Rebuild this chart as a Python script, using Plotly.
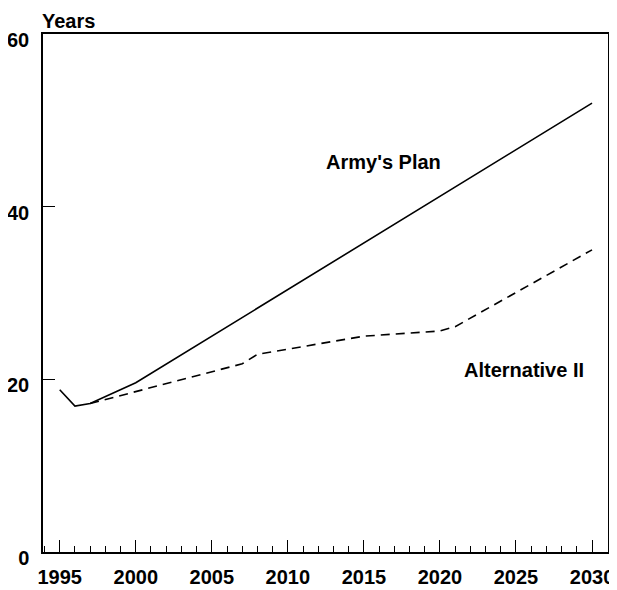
import plotly.graph_objects as go

# Army's Plan (solid)
army_years = [1995, 1996, 1997, 2000, 2030]
army_values = [18.8, 16.9, 17.2, 19.6, 52.0]

# Alternative II (dashed)
alt_years = [1997, 2000, 2005, 2007, 2008, 2010, 2015, 2020, 2021, 2030]
alt_values = [17.2, 18.6, 20.9, 21.8, 22.9, 23.5, 25.0, 25.6, 26.1, 35.0]

x_ticks = [1995, 2000, 2005, 2010, 2015, 2020, 2025, 2030]
y_ticks = [0, 20, 40, 60]

bold = dict(family="Liberation Sans, Arial, sans-serif", size=20, color="black", weight="bold")

fig = go.Figure()
fig.add_trace(go.Scatter(x=army_years, y=army_values, mode="lines",
                         line=dict(color="black", width=1.6), showlegend=False))
fig.add_trace(go.Scatter(x=alt_years, y=alt_values, mode="lines",
                         line=dict(color="black", width=1.6, dash="9px,6px"), showlegend=False))

fig.add_annotation(x=2016.3, y=45.2, text="Army's Plan", showarrow=False, font=bold)
fig.add_annotation(x=2025.55, y=21.1, text="Alternative II", showarrow=False, font=bold)
fig.add_annotation(x=0, y=1, xref="paper", yref="paper", xanchor="left", yanchor="bottom",
                   text="Years", showarrow=False, font=bold, yshift=0, xshift=-3)

# page body has an 8px margin, so the figure is sized/offset to land on the reference
fig.update_layout(
    width=609, height=582,
    margin=dict(l=35, r=9, t=26, b=38, autoexpand=False),
    plot_bgcolor="white", paper_bgcolor="white",
    font=bold,
)
fig.update_xaxes(range=[1993.9, 2031.05], tickvals=x_ticks, showgrid=False, zeroline=False,
                 automargin=False,
                 showline=True, mirror=True, linecolor="black", linewidth=1.5,
                 ticks="inside", ticklen=12, tickcolor="black", tickwidth=1.2,
                 ticklabelstandoff=6,
                 minor=dict(dtick=1, ticks="inside", ticklen=6, tickcolor="black", tickwidth=1.2))
fig.update_yaxes(range=[0, 60], tickvals=y_ticks, showgrid=False, zeroline=False,
                 automargin=False,
                 showline=True, mirror=True, linecolor="black", linewidth=1.5,
                 ticks="inside", ticklen=12, tickcolor="black", tickwidth=1.2,
                 ticklabelstandoff=8, ticklabelshift=6)

fig.write_html("out.html")
